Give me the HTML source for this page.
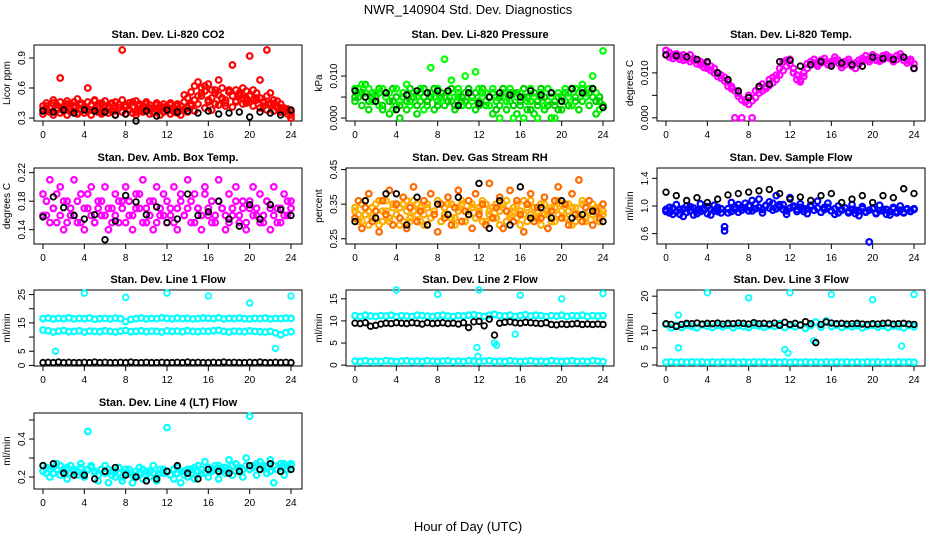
<!DOCTYPE html>
<html><head><meta charset="utf-8"><style>
html,body{margin:0;padding:0;background:#fff;}
svg{display:block;font-family:"Liberation Sans",sans-serif;}
</style></head><body>
<svg id="chart" width="936" height="540" viewBox="0 0 936 540" xmlns="http://www.w3.org/2000/svg">
<rect width="936" height="540" fill="#fff"/>
<text x="468" y="14" font-size="13" text-anchor="middle">NWR_140904  Std. Dev. Diagnostics</text>
<text x="468" y="531" font-size="13" text-anchor="middle">Hour of Day (UTC)</text>
</svg>
<script>
// ---- data ----
const hourTicks = [0,4,8,12,16,20,24];
const co2Red1 = [0.38,0.42,0.36,0.45,0.40,0.70,0.37,0.44,0.39,0.46,0.35,0.43,0.41,0.60,0.38,0.47,0.44,0.36,0.42,0.40,0.45,0.37,0.43,0.98,0.41,0.39,0.46,0.36,0.42,0.38,0.44,0.40,0.35,0.43,0.39,0.41,0.37,0.45,0.36,0.42,0.38,0.53,0.40,0.44,0.37,0.66,0.55,0.62,0.48,0.58,0.44,0.68,0.50,0.42,0.56,0.83,0.46,0.52,0.60,0.45,0.92,0.58,0.50,0.68,0.42,0.98,0.55,0.44,0.47,0.40,0.36,0.39,0.30];
const co2Red2 = [0.34,0.37,0.40,0.33,0.38,0.35,0.39,0.33,0.36,0.40,0.34,0.38,0.35,0.37,0.33,0.39,0.36,0.34,0.38,0.35,0.37,0.33,0.40,0.36,0.34,0.38,0.35,0.33,0.37,0.36,0.39,0.34,0.35,0.38,0.33,0.36,0.40,0.34,0.37,0.35,0.33,0.38,0.36,0.42,0.48,0.44,0.52,0.40,0.46,0.38,0.55,0.43,0.49,0.45,0.58,0.41,0.47,0.54,0.44,0.50,0.46,0.42,0.48,0.40,0.45,0.38,0.43,0.37,0.40,0.36,0.38,0.34,0.33];
const co2Red3 = [0.42,0.45,0.40,0.48,0.43,0.46,0.41,0.47,0.44,0.42,0.49,0.45,0.40,0.46,0.43,0.48,0.41,0.45,0.47,0.42,0.44,0.46,0.40,0.48,0.43,0.45,0.41,0.47,0.44,0.42,0.46,0.43,0.40,0.45,0.42,0.44,0.41,0.43,0.40,0.44,0.42,0.46,0.50,0.56,0.62,0.52,0.60,0.57,0.64,0.50,0.58,0.53,0.60,0.48,0.56,0.52,0.58,0.55,0.50,0.57,0.52,0.48,0.55,0.50,0.46,0.52,0.45,0.48,0.42,0.44,0.40,0.38,0.36];
const co2Black = [0.37,0.36,0.38,0.35,0.38,0.37,0.36,0.33,0.34,0.27,0.37,0.32,0.38,0.36,0.37,0.35,0.37,0.34,0.35,0.36,0.31,0.36,0.35,0.33,0.38];
const presGreen1 = [0.007,0.006,0.008,0.005,0.007,0.004,0.006,0.003,0.007,0.005,0.006,0.002,0.007,0.004,0.006,0.008,0.003,0.006,0.005,0.007,0.002,0.006,0.012,0.005,0.007,0.004,0.014,0.006,0.009,0.005,0.007,0.003,0.010,0.006,0.004,0.011,0.007,0.005,0.006,0.003,0.007,0.005,0.000,0.006,0.004,0.007,0.000,0.005,0.006,0.000,0.004,0.007,0.005,0.000,0.006,0.003,0.007,0.005,0.000,0.006,0.004,0.007,0.005,0.003,0.007,0.006,0.008,0.005,0.007,0.010,0.006,0.002,0.016];
const presGreen2 = [0.004,0.005,0.003,0.006,0.002,0.005,0.004,0.006,0.002,0.005,0.001,0.004,0.003,0.000,0.005,0.002,0.004,0.006,0.001,0.004,0.005,0.003,0.006,0.002,0.004,0.005,0.003,0.006,0.004,0.002,0.005,0.004,0.006,0.003,0.005,0.002,0.004,0.006,0.003,0.005,0.001,0.004,0.003,0.005,0.002,0.004,0.006,0.001,0.003,0.005,0.002,0.004,0.001,0.003,0.005,0.002,0.004,0.000,0.003,0.005,0.002,0.004,0.006,0.003,0.005,0.002,0.004,0.006,0.003,0.005,0.001,0.004,0.003];
const presGreen3 = [0.005,0.007,0.006,0.008,0.004,0.006,0.005,0.007,0.003,0.006,0.004,0.007,0.005,0.003,0.006,0.004,0.007,0.005,0.003,0.006,0.007,0.004,0.005,0.007,0.003,0.006,0.005,0.004,0.007,0.003,0.006,0.005,0.004,0.007,0.005,0.006,0.003,0.007,0.004,0.005,0.006,0.002,0.005,0.007,0.004,0.006,0.003,0.006,0.004,0.007,0.005,0.002,0.006,0.004,0.007,0.005,0.003,0.006,0.004,0.002,0.005,0.006,0.003,0.007,0.004,0.006,0.007,0.005,0.006,0.007,0.004,0.005,0.003];
const presBlack = [0.0065,0.005,0.004,0.006,0.002,0.0055,0.0065,0.006,0.0065,0.0065,0.003,0.006,0.0035,0.005,0.006,0.0055,0.005,0.0065,0.0055,0.006,0.004,0.007,0.006,0.007,0.0025];
const tempMag1 = [0.0150,0.0145,0.0140,0.0142,0.0138,0.0140,0.0135,0.0140,0.0132,0.0128,0.0125,0.0120,0.0122,0.0115,0.0110,0.0100,0.0095,0.0090,0.0080,0.0070,0.0000,0.0055,0.0000,0.0040,0.0050,0.0000,0.0060,0.0065,0.0075,0.0070,0.0085,0.0090,0.0095,0.0110,0.0125,0.0128,0.0130,0.0110,0.0095,0.0085,0.0100,0.0120,0.0125,0.0130,0.0120,0.0128,0.0132,0.0120,0.0125,0.0135,0.0128,0.0118,0.0125,0.0130,0.0120,0.0122,0.0128,0.0132,0.0138,0.0130,0.0140,0.0135,0.0130,0.0138,0.0140,0.0135,0.0130,0.0138,0.0142,0.0135,0.0128,0.0130,0.0110];
const tempMag2 = [0.0140,0.0135,0.0132,0.0135,0.0130,0.0128,0.0130,0.0125,0.0128,0.0120,0.0118,0.0112,0.0110,0.0105,0.0100,0.0092,0.0088,0.0082,0.0070,0.0065,0.0060,0.0048,0.0040,0.0035,0.0030,0.0038,0.0045,0.0055,0.0060,0.0065,0.0072,0.0078,0.0085,0.0095,0.0105,0.0115,0.0120,0.0100,0.0085,0.0080,0.0092,0.0110,0.0118,0.0122,0.0115,0.0122,0.0125,0.0118,0.0120,0.0128,0.0122,0.0112,0.0118,0.0124,0.0115,0.0110,0.0120,0.0126,0.0130,0.0125,0.0132,0.0128,0.0126,0.0130,0.0134,0.0132,0.0125,0.0130,0.0135,0.0128,0.0122,0.0125,0.0120];
const tempBlack = [0.0140,0.0138,0.0136,0.0130,0.0125,0.0100,0.0085,0.0060,0.0045,0.0070,0.0075,0.0125,0.0128,0.0115,0.0118,0.0125,0.0115,0.0122,0.0118,0.0115,0.0135,0.0132,0.0130,0.0135,0.0110];
const ambMag1 = [0.19,0.16,0.21,0.17,0.15,0.20,0.14,0.18,0.16,0.21,0.15,0.19,0.14,0.17,0.20,0.15,0.18,0.16,0.20,0.14,0.17,0.19,0.15,0.18,0.20,0.16,0.14,0.19,0.17,0.21,0.15,0.18,0.14,0.20,0.16,0.19,0.15,0.17,0.20,0.14,0.18,0.16,0.21,0.15,0.19,0.17,0.14,0.20,0.16,0.18,0.15,0.21,0.17,0.14,0.19,0.16,0.20,0.15,0.18,0.14,0.17,0.20,0.16,0.19,0.15,0.18,0.14,0.20,0.17,0.15,0.19,0.16,0.18];
const ambMag2 = [0.16,0.18,0.15,0.17,0.19,0.16,0.18,0.15,0.17,0.16,0.18,0.15,0.17,0.19,0.16,0.15,0.17,0.18,0.16,0.17,0.15,0.16,0.18,0.17,0.15,0.18,0.16,0.17,0.19,0.15,0.17,0.16,0.18,0.15,0.17,0.16,0.18,0.16,0.15,0.17,0.19,0.16,0.17,0.18,0.15,0.17,0.16,0.19,0.17,0.15,0.16,0.18,0.17,0.16,0.15,0.17,0.18,0.16,0.17,0.15,0.18,0.16,0.17,0.15,0.16,0.18,0.17,0.16,0.15,0.17,0.16,0.18,0.17];
const ambBlack = [0.158,0.186,0.171,0.160,0.155,0.161,0.126,0.152,0.188,0.179,0.161,0.172,0.150,0.155,0.190,0.160,0.165,0.180,0.155,0.145,0.175,0.155,0.175,0.168,0.160];
const rhOrange1 = [0.31,0.36,0.28,0.34,0.38,0.30,0.33,0.27,0.36,0.32,0.39,0.29,0.35,0.31,0.37,0.28,0.34,0.40,0.30,0.33,0.36,0.29,0.38,0.32,0.27,0.35,0.31,0.37,0.29,0.34,0.39,0.30,0.33,0.36,0.28,0.38,0.32,0.35,0.29,0.41,0.31,0.34,0.37,0.28,0.33,0.39,0.30,0.36,0.32,0.27,0.35,0.38,0.30,0.34,0.31,0.37,0.28,0.33,0.36,0.40,0.31,0.35,0.29,0.38,0.32,0.42,0.30,0.34,0.36,0.29,0.33,0.31,0.35];
const rhOrange2 = [0.33,0.30,0.35,0.32,0.29,0.34,0.31,0.36,0.30,0.33,0.31,0.35,0.32,0.34,0.30,0.36,0.31,0.33,0.35,0.30,0.32,0.34,0.31,0.33,0.36,0.30,0.34,0.32,0.35,0.31,0.33,0.35,0.30,0.32,0.34,0.31,0.33,0.30,0.35,0.32,0.34,0.31,0.33,0.35,0.30,0.32,0.34,0.31,0.33,0.36,0.30,0.32,0.34,0.31,0.35,0.32,0.33,0.30,0.34,0.32,0.35,0.31,0.33,0.34,0.30,0.32,0.35,0.31,0.33,0.32,0.34,0.30,0.33];
const rhOrange3 = [0.34,0.32,0.30,0.36,0.33,0.31,0.35,0.29,0.33,0.36,0.30,0.34,0.32,0.29,0.35,0.33,0.30,0.36,0.32,0.34,0.29,0.35,0.31,0.33,0.36,0.30,0.32,0.35,0.31,0.29,0.34,0.36,0.30,0.33,0.35,0.31,0.34,0.36,0.30,0.33,0.31,0.35,0.29,0.34,0.36,0.31,0.33,0.35,0.29,0.32,0.34,0.36,0.31,0.33,0.29,0.35,0.32,0.34,0.30,0.36,0.33,0.31,0.35,0.29,0.34,0.32,0.36,0.30,0.33,0.35,0.31,0.34,0.32];
const rhBlack = [0.30,0.36,0.31,0.38,0.38,0.29,0.37,0.29,0.35,0.32,0.37,0.32,0.41,0.28,0.36,0.29,0.40,0.31,0.34,0.31,0.36,0.31,0.32,0.33,0.30];
const flowBlue1 = [0.92,0.98,0.88,1.02,0.95,0.85,1.00,0.93,0.97,0.89,1.03,0.94,0.99,0.87,1.01,0.92,0.96,0.70,0.90,1.05,0.95,0.91,0.98,1.04,0.93,1.08,0.96,1.10,0.90,1.00,1.06,0.94,1.15,1.02,0.95,0.88,1.12,0.98,0.92,1.03,0.96,0.89,1.01,0.94,1.07,0.91,0.98,1.04,0.93,0.88,1.00,0.95,0.97,0.90,1.02,0.94,0.86,0.99,0.92,0.48,0.96,0.89,1.01,0.93,0.95,0.87,0.98,0.92,1.00,0.90,0.96,0.93,0.95];
const flowBlue2 = [0.95,0.90,0.97,0.92,0.88,0.96,0.91,0.99,0.87,0.94,0.92,0.97,0.89,0.95,0.93,0.98,0.90,0.64,0.96,0.92,0.99,1.02,0.94,0.97,1.00,0.93,1.03,0.98,0.95,1.01,0.97,1.04,0.96,0.99,1.02,0.93,0.97,1.00,0.95,0.98,0.92,0.96,0.99,0.94,0.97,0.91,0.95,0.98,0.93,0.96,0.90,0.94,0.97,0.92,0.95,0.89,0.93,0.96,0.91,0.94,0.97,0.90,0.93,0.95,0.88,0.92,0.96,0.90,0.94,0.91,0.95,0.92,0.96];
const flowBlack = [1.20,1.15,1.08,1.12,1.05,1.10,1.16,1.18,1.20,1.22,1.24,1.18,1.10,1.13,1.08,1.15,1.18,1.05,1.10,1.15,1.05,1.15,1.12,1.25,1.18];
const line1CyanHi = [16.5,16.7,16.4,16.6,16.5,16.8,16.4,16.6,16.5,16.7,16.3,16.5,16.6,16.4,16.7,16.5,15.5,16.2,16.5,16.7,16.4,16.6,16.5,16.8,16.6,16.4,16.7,16.5,16.6,16.4,16.5,16.7,16.6,16.5,16.8,16.4,16.6,16.5,16.7,16.5,16.4,16.6,16.5,16.7,16.4,16.6,16.5,16.7,16.6];
const line1CyanLo = [12.5,12.2,11.8,12.1,12.3,11.9,12.0,12.2,11.8,12.1,12.0,11.9,12.2,12.0,11.8,12.1,12.3,11.9,12.0,12.2,11.9,12.1,12.0,11.8,12.2,12.0,12.1,11.9,12.3,12.0,11.9,12.1,12.0,12.2,12.4,12.0,11.8,12.1,12.0,11.9,12.2,12.0,11.9,11.8,12.0,11.5,10.8,11.6,11.9];
const line1Black = [1.0,1.1,1.0,1.2,1.0,1.1,1.0,1.0,1.1,1.0,1.2,1.0,1.1,1.0,1.0,1.1,1.0,1.2,1.0,1.0,1.1,1.0,1.0,1.1,1.0,1.0,1.1,1.0,1.2,1.0,1.1,1.0,1.0,1.1,1.0,1.2,1.0,1.1,1.0,1.0,1.1,1.0,1.2,1.0,1.0,1.1,1.0,1.1,1.0];
const line1OutHours = [1.2,4,8,12,16,20,22.5,24];
const line1OutVals = [5,25.5,24,25.5,24.5,22,6,24.5];
const line2CyanHi = [11.2,11.0,11.3,11.1,11.0,11.2,11.1,11.3,11.0,11.2,11.1,11.0,11.3,11.2,11.1,11.0,11.2,11.3,11.1,11.0,11.2,11.1,11.3,11.4,11.2,11.0,11.3,11.5,11.2,11.1,11.3,11.0,11.2,11.4,11.1,11.3,11.2,11.0,11.2,11.1,11.3,11.0,11.2,11.1,11.3,11.0,11.2,11.1,11.2];
const line2CyanLo = [0.9,0.8,1.0,0.8,0.9,0.8,1.0,0.9,0.8,0.9,1.0,0.8,0.9,0.8,1.0,0.9,0.8,0.9,1.0,0.8,0.9,0.8,1.0,0.9,0.8,0.9,1.0,0.8,0.9,0.8,1.0,0.9,0.8,0.9,1.0,0.8,0.9,0.8,1.0,0.9,0.8,0.9,1.0,0.8,0.9,0.8,1.0,0.9,0.8];
const line2Black = [9.5,9.4,9.6,8.8,9.0,9.3,9.5,9.4,9.6,9.5,9.4,9.6,9.5,9.3,9.6,9.4,9.5,9.6,9.4,9.5,9.3,9.6,8.5,9.8,9.9,8.9,10.4,6.8,9.5,9.7,9.8,9.6,9.5,9.7,9.6,9.5,9.4,9.6,9.2,9.1,9.3,9.2,9.3,9.4,9.2,9.3,9.2,9.3,9.2];
const line2OutHours = [4,8,11.8,11.9,12,13.5,13.7,15.5,16,20,24];
const line2OutVals = [17,16,4,2,17,5,4.5,7,15.8,15,16.2];
const line3CyanHi = [11.8,10.8,11.5,10.9,11.6,11.2,10.8,11.7,11.3,10.9,11.5,11.1,11.6,10.8,11.4,11.2,10.9,11.6,11.3,11.0,11.5,11.2,12.0,10.9,11.5,11.1,11.7,10.6,11.4,12.5,11.0,12.8,11.2,11.6,10.9,11.4,11.1,11.5,10.8,11.3,11.6,11.0,11.4,10.9,11.3,11.2,10.8,11.5,11.1];
const line3CyanLo = [0.8,0.9,0.8,0.9,0.8,0.9,0.8,0.9,0.8,0.9,0.8,0.9,0.8,0.9,0.8,0.9,0.8,0.9,0.8,0.9,0.8,0.9,0.8,0.9,0.8,0.9,0.8,0.9,0.8,0.9,0.8,0.9,0.8,0.9,0.8,0.9,0.8,0.9,0.8,0.9,0.8,0.9,0.8,0.9,0.8,0.9,0.8,0.9,0.8];
const line3Black = [12.0,11.8,11.2,11.8,12.1,12.0,12.2,11.9,12.1,12.0,12.2,11.9,12.1,12.0,12.2,12.1,11.9,12.3,12.0,12.1,11.9,12.2,11.5,12.4,11.8,12.1,11.6,12.6,12.0,6.5,11.8,12.5,12.2,12.0,12.1,11.9,12.0,12.1,11.9,11.8,12.0,11.9,12.1,12.2,11.9,12.0,12.1,11.9,11.8];
const line3OutHours = [1.2,1.2,4,8,11.5,11.8,12,14.3,16,20,22.8,24];
const line3OutVals = [5,14.5,21,19.5,4.5,3.5,21,7,20.5,19,5.5,20.5];
const lt4Cyan1 = [0.26,0.22,0.20,0.25,0.27,0.21,0.24,0.19,0.26,0.23,0.21,0.27,0.20,0.44,0.25,0.22,0.18,0.24,0.26,0.17,0.23,0.20,0.25,0.18,0.22,0.24,0.17,0.21,0.25,0.19,0.23,0.20,0.26,0.18,0.22,0.24,0.46,0.21,0.19,0.25,0.17,0.23,0.20,0.24,0.19,0.26,0.22,0.28,0.20,0.24,0.26,0.19,0.25,0.22,0.29,0.21,0.27,0.24,0.20,0.30,0.52,0.26,0.21,0.28,0.25,0.22,0.29,0.17,0.24,0.27,0.21,0.26,0.27];
const lt4Cyan2 = [0.23,0.25,0.24,0.22,0.24,0.26,0.23,0.25,0.22,0.24,0.23,0.25,0.22,0.24,0.26,0.23,0.21,0.24,0.22,0.24,0.21,0.23,0.22,0.20,0.24,0.22,0.21,0.23,0.22,0.24,0.21,0.23,0.22,0.20,0.24,0.22,0.23,0.21,0.24,0.22,0.23,0.21,0.24,0.22,0.25,0.23,0.24,0.22,0.25,0.23,0.24,0.26,0.23,0.25,0.24,0.26,0.23,0.25,0.24,0.26,0.24,0.25,0.27,0.24,0.26,0.25,0.23,0.26,0.24,0.25,0.27,0.24,0.26];
const lt4Black = [0.26,0.27,0.22,0.21,0.21,0.19,0.23,0.25,0.21,0.20,0.18,0.19,0.23,0.26,0.22,0.19,0.24,0.23,0.22,0.23,0.26,0.24,0.27,0.23,0.24];
const panelTitles = ["Stan. Dev. Li-820 CO2","Stan. Dev. Li-820 Pressure","Stan. Dev. Li-820 Temp.","Stan. Dev. Amb. Box Temp.","Stan. Dev. Gas Stream RH","Stan. Dev. Sample Flow","Stan. Dev. Line 1 Flow","Stan. Dev. Line 2 Flow","Stan. Dev. Line 3 Flow","Stan. Dev. Line 4 (LT) Flow"];
const yTitles = ["Licor ppm","kPa","degrees C","degrees C","percent","ml/min","ml/min","ml/min","ml/min","ml/min"];
const yTickVals = [[0.3,0.6,0.9],[0,0.005,0.01],[0,0.005,0.01],[0.14,0.18,0.22],[0.25,0.35,0.45],[0.6,1.0,1.4],[0,5,10,15,20,25],[0,5,10,15],[0,5,10,15,20],[0.2,0.3,0.4,0.5]];
const yTickLabels = [["0.3","0.6","0.9"],["0.000","","0.010"],["0.000","","0.010"],["0.14","0.18","0.22"],["0.25","0.35","0.45"],["0.6","1.0","1.4"],["0","5","","15","","25"],["0","5","10","15"],["0","5","10","","20"],["0.2","","0.4",""]];
const yRanges = [[0.27,1.03],[-0.0007,0.0174],[-0.0007,0.0162],[0.12,0.2265],[0.235,0.4545],[0.45,1.55],[-0.2,26.6],[-0.2,17],[-0.3,21.8],[0.137,0.537]];

// ---- drawing ----
const NS = "http://www.w3.org/2000/svg";
const svg = document.getElementById('chart');
const colLefts = [34,346,657];
const rowTops = [45,168,290,413];
const W = 268, H = 76;
function mk(tag, attrs, parent){
  const e = document.createElementNS(NS, tag);
  for (const k in attrs) e.setAttribute(k, attrs[k]);
  (parent||svg).appendChild(e);
  return e;
}
function scales(p){
  const L = colLefts[p%3], T = rowTops[Math.floor(p/3)];
  const yr = yRanges[p];
  return {L, T,
    xs: h => L + 9 + h*248/24,
    ys: v => T + H - (v - yr[0])/(yr[1]-yr[0])*H};
}
function drawFrame(p){
  const s = scales(p);
  const g = mk('g', {});
  
  
  const t = mk('text', {x: s.L + W/2, y: s.T - 7, 'font-size': 11, 'font-weight': 'bold', 'text-anchor': 'middle'}, g);
  t.textContent = panelTitles[p];
  
  
  const box = mk('rect', {x: s.L, y: s.T, width: W, height: H, fill: 'none', stroke: '#000', 'stroke-width': 1}, g);
  
  
  hourTicks.forEach(h => {
    const x = s.xs(h);
    mk('line', {x1: x, x2: x, y1: s.T+H, y2: s.T+H+5, stroke: '#000'}, g);
    const tl = mk('text', {x: x, y: s.T+H+17, 'font-size': 10, 'text-anchor': 'middle'}, g);
    tl.textContent = h;
    
    
  });
  yTickVals[p].forEach((v, i) => {
    const y = s.ys(v);
    mk('line', {x1: s.L-5, x2: s.L, y1: y, y2: y, stroke: '#000'}, g);
    const lab = yTickLabels[p][i];
    if (lab) {
      const tl = mk('text', {x: s.L-9, y: y, 'font-size': 10, 'text-anchor': 'middle', transform: `rotate(-90 ${s.L-9} ${y})`}, g);
      tl.textContent = lab;
      
      
    }
  });
  const yt = mk('text', {x: s.L-24, y: s.T+H/2, 'font-size': 10, 'text-anchor': 'middle', transform: `rotate(-90 ${s.L-24} ${s.T+H/2})`}, g);
  yt.textContent = yTitles[p];
  
  
}
function drawSeries(p, vals, color, name, hours, sw){
  const s = scales(p);
  const g = mk('g', {fill: 'none', stroke: color, 'stroke-width': sw || 2.2});
  
  
  vals.forEach((v, i) => {
    const h = hours ? hours[i] : i*24/(vals.length-1);
    const c = mk('circle', {cx: s.xs(h), cy: s.ys(v), r: 2.8}, g);
    
    
  });
}
for (let p = 0; p < 10; p++) drawFrame(p);
drawSeries(0, co2Red2, '#ff0000', 'co2-series-red');
drawSeries(0, co2Red3, '#ff0000', 'co2-series-red-3');
drawSeries(0, co2Red1, '#ff0000', 'co2-series-red-2');
drawSeries(0, co2Black, '#000', 'co2-series-black', null, 1.8);
drawSeries(1, presGreen2, '#00e000', 'pressure-series-green');
drawSeries(1, presGreen3, '#00cc00', 'pressure-series-green-3');
drawSeries(1, presGreen1, '#00ff00', 'pressure-series-green-2');
drawSeries(1, presBlack, '#000', 'pressure-series-black', null, 1.8);
drawSeries(2, tempMag2, '#ff00ff', 'temp-series-magenta');
drawSeries(2, tempMag1, '#ff00ff', 'temp-series-magenta-2');
drawSeries(2, tempBlack, '#000', 'temp-series-black', null, 1.8);
drawSeries(3, ambMag2, '#ff00ff', 'amb-series-magenta');
drawSeries(3, ambMag1, '#ff00ff', 'amb-series-magenta-2');
drawSeries(3, ambBlack, '#000', 'amb-series-black', null, 1.8);
drawSeries(4, rhOrange2, '#ffa500', 'rh-series-orange');
drawSeries(4, rhOrange3, '#ffb000', 'rh-series-orange-3');
drawSeries(4, rhOrange1, '#ff6a00', 'rh-series-red');
drawSeries(4, rhBlack, '#000', 'rh-series-black', null, 1.8);
drawSeries(5, flowBlue2, '#0000ff', 'flow-series-blue');
drawSeries(5, flowBlue1, '#0000ff', 'flow-series-blue-2');
drawSeries(5, flowBlack, '#000', 'flow-series-black', null, 1.8);
drawSeries(6, line1CyanHi, '#00ffff', 'line1-cyan-high');
drawSeries(6, line1CyanLo, '#00ffff', 'line1-cyan-low');
drawSeries(6, line1OutVals, '#00ffff', 'line1-cyan-outliers', line1OutHours, 1.8);
drawSeries(6, line1Black, '#000', 'line1-black', null, 1.8);
drawSeries(7, line2CyanHi, '#00ffff', 'line2-cyan-high');
drawSeries(7, line2CyanLo, '#00ffff', 'line2-cyan-low');
drawSeries(7, line2OutVals, '#00ffff', 'line2-cyan-outliers', line2OutHours, 1.8);
drawSeries(7, line2Black, '#000', 'line2-black', null, 1.8);
drawSeries(8, line3CyanHi, '#00ffff', 'line3-cyan-high');
drawSeries(8, line3CyanLo, '#00ffff', 'line3-cyan-low');
drawSeries(8, line3OutVals, '#00ffff', 'line3-cyan-outliers', line3OutHours, 1.8);
drawSeries(8, line3Black, '#000', 'line3-black', null, 1.8);
drawSeries(9, lt4Cyan2, '#00ffff', 'line4-cyan');
drawSeries(9, lt4Cyan1, '#00ffff', 'line4-cyan-2');
drawSeries(9, lt4Black, '#000', 'line4-black', null, 1.8);
</script>
</body></html>
